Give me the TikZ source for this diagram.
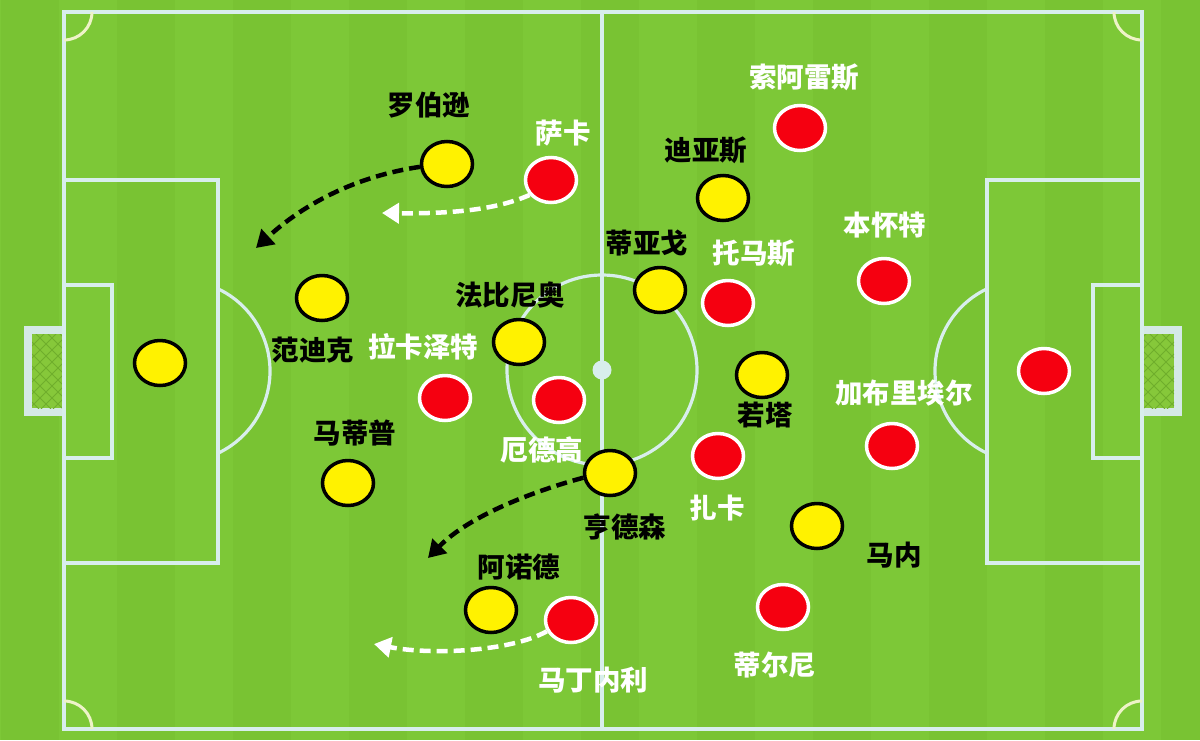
\documentclass[tikz,border=0pt]{standalone}
\usepackage{fontspec}
\newfontfamily\cjk{Noto Sans CJK SC}
\usetikzlibrary{shapes.geometric,arrows.meta}
\definecolor{grassA}{HTML}{7DC837}
\definecolor{grassB}{HTML}{79C333}
\definecolor{linec}{HTML}{D8EEEC}
\definecolor{cornerc}{HTML}{EEF3C8}
\definecolor{netc}{HTML}{86C83A}
\definecolor{netline}{HTML}{6FAE2C}
\definecolor{goalframe}{HTML}{D5E9E6}
\definecolor{yel}{HTML}{FFF200}
\definecolor{red}{HTML}{F50010}
\begin{document}
\begin{tikzpicture}[x=1pt,y=-1pt,
  pline/.style={draw=linec,line width=3.2pt},
  yplayer/.style={ellipse,draw=black,fill=yel,line width=3.5pt,minimum width=51pt,minimum height=45pt,inner sep=0pt},
  rplayer/.style={ellipse,draw=white,fill=red,line width=3.5pt,minimum width=51pt,minimum height=45pt,inner sep=0pt},
  ylabel/.style={text=black,font=\cjk\bfseries\fontsize{27.5}{30}\selectfont,inner sep=0pt},
  rlabel/.style={text=white,font=\cjk\bfseries\fontsize{27.5}{30}\selectfont,inner sep=0pt},
  darrow/.style={line width=4.5pt,dash pattern=on 11pt off 6pt,-{Triangle[length=17pt,width=20pt]}}
]
\useasboundingbox (0,0) rectangle (1200,740);
% grass
\fill[grassA] (0,0) rectangle (1200,740);
\foreach \s in {1,117,233,349,465,581,697,813,929,1045,1161}{
  \fill[grassB] (\s,0) rectangle ({\s+58},740);
}
% goals
\fill[goalframe] (24,326) rectangle (64,416);
\fill[netc] (32,334) rectangle (63,408);
\begin{scope}
\clip (32,334) rectangle (63,408);
\foreach \k in {-100,-88,...,120}{
  \draw[netline,line width=1pt] (32,334+\k) -- (72,374+\k);
  \draw[netline,line width=1pt] (32,374+\k) -- (72,334+\k);
}
\end{scope}
\fill[goalframe] (1142,326) rectangle (1182,416);
\fill[netc] (1143,334) rectangle (1174,408);
\begin{scope}
\clip (1143,334) rectangle (1174,408);
\foreach \k in {-100,-88,...,120}{
  \draw[netline,line width=1pt] (1134,334+\k) -- (1174,374+\k);
  \draw[netline,line width=1pt] (1134,374+\k) -- (1174,334+\k);
}
\end{scope}
% pitch lines
\draw[pline] (64,12) rectangle (1142,729);
\draw[pline] (602,12) -- (602,729);
\draw[pline] (602,370) circle[radius=95];
\fill[linec] (602,370) circle[radius=9.5];
\draw[pline] (64,180) rectangle (218,563);
\draw[pline] (64,285) rectangle (112,458);
\draw[pline] (987,180) rectangle (1142,563);
\draw[pline] (1093,285) rectangle (1142,458);
\draw[pline] ([shift={(-64.7:91)}]179,371) arc[start angle=-64.7,end angle=64.7,radius=91];
\draw[pline] ([shift={(115.3:91)}]1026,371) arc[start angle=115.3,end angle=244.7,radius=91];
% corner arcs
\draw[draw=cornerc,line width=3pt] (92,12) arc[start angle=0,end angle=90,radius=28];
\draw[draw=cornerc,line width=3pt] (92,729) arc[start angle=0,end angle=-90,radius=28];
\draw[draw=cornerc,line width=3pt] (1114,12) arc[start angle=180,end angle=90,radius=28];
\draw[draw=cornerc,line width=3pt] (1114,729) arc[start angle=180,end angle=270,radius=28];
% yellow team
\node[yplayer] (ygk) at (160,363) {};
\node[yplayer] (robertson) at (447,164) {};
\node[yplayer] (vandijk) at (322,298) {};
\node[yplayer] (matip) at (348,483) {};
\node[yplayer] (fabinho) at (519,342) {};
\node[yplayer] (thiago) at (660,290) {};
\node[yplayer] (henderson) at (610,473) {};
\node[yplayer] (arnold) at (491,610) {};
\node[yplayer] (diaz) at (723,198) {};
\node[yplayer] (jota) at (762,375) {};
\node[yplayer] (mane) at (817,526) {};
% red team
\node[rplayer] (saka) at (551,180) {};
\node[rplayer] (soares) at (800,128) {};
\node[rplayer] (tomas) at (728,303) {};
\node[rplayer] (white) at (884,281) {};
\node[rplayer] (lacazette) at (445,398) {};
\node[rplayer] (odegaard) at (559,400) {};
\node[rplayer] (xhaka) at (718,456) {};
\node[rplayer] (gabriel) at (892,446) {};
\node[rplayer] (rgk) at (1044,371) {};
\node[rplayer] (tierney) at (783,607) {};
\node[rplayer] (martinelli) at (571,620) {};
% labels
\node[ylabel] (lrobertson) at (429,105) {罗伯逊};
\node[ylabel] (lvandijk) at (313,350) {范迪克};
\node[ylabel] (lmatip) at (355,433) {马蒂普};
\node[ylabel] (lfabinho) at (510,295) {法比尼奥};
\node[ylabel] (lthiago) at (647,243) {蒂亚戈};
\node[ylabel] (lhenderson) at (625,527) {亨德森};
\node[ylabel] (larnold) at (519,567) {阿诺德};
\node[ylabel] (ldiaz) at (706,150) {迪亚斯};
\node[ylabel] (ljota) at (765,415) {若塔};
\node[ylabel] (lmane) at (894,555) {马内};
\node[rlabel] (lsaka) at (563,133) {萨卡};
\node[rlabel] (lsoares) at (804,77) {索阿雷斯};
\node[rlabel] (ltomas) at (754,253) {托马斯};
\node[rlabel] (lwhite) at (885,225) {本怀特};
\node[rlabel] (llacazette) at (423,347) {拉卡泽特};
\node[rlabel] (lodegaard) at (542,450) {厄德高};
\node[rlabel] (lxhaka) at (717,508) {扎卡};
\node[rlabel] (lgabriel) at (904,393) {加布里埃尔};
\node[rlabel] (ltierney) at (775,665) {蒂尔尼};
\node[rlabel] (lmartinelli) at (593,680) {马丁内利};
% runs
\coordinate (t1) at (256,248);
\coordinate (t2) at (382,213);
\coordinate (t3) at (428,558);
\coordinate (t4) at (374,644);
\draw[darrow,draw=black] (robertson.186) .. controls (345,178) and (295,212) .. (t1);
\draw[darrow,draw=white] (saka.215) .. controls (500,208) and (460,214) .. (t2);
\draw[darrow,draw=black] (henderson.190) .. controls (520,495) and (465,520) .. (t3);
\draw[darrow,draw=white] (martinelli.205) .. controls (510,652) and (430,655) .. (t4);
\end{tikzpicture}
\end{document}
